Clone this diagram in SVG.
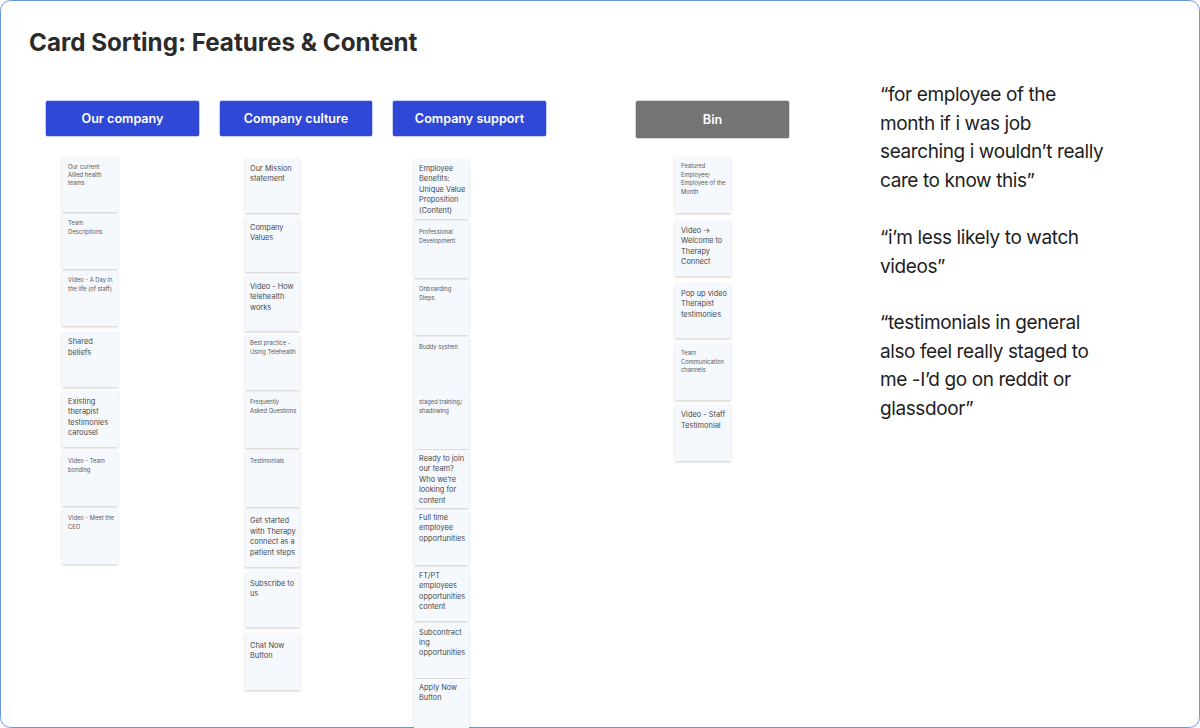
<svg xmlns="http://www.w3.org/2000/svg" width="1200" height="728" viewBox="0 0 1200 728">
<defs>
<filter id="sh" x="-20%" y="-20%" width="140%" height="150%">
<feDropShadow dx="0" dy="1.2" stdDeviation="1" flood-color="#000" flood-opacity="0.18"/>
</filter>
<style>
.title{font-family:Inter,"Liberation Sans",sans-serif;font-size:24.2px;font-weight:700;fill:#2b2b2b}
.hb{fill:#2f48d8;stroke:#2a40c4;stroke-width:0.5}
.hg{fill:#757575;stroke:#666;stroke-width:0.5}
.ht{font-family:Inter,"Liberation Sans",sans-serif;font-size:12.6px;font-weight:600;fill:#fff;text-anchor:middle}
.card{fill:#f5f8fd;filter:url(#sh)}
.s{font-family:Inter,"Liberation Sans",sans-serif;font-size:5.8px;fill:#5a5a5a}
.l{font-family:Inter,"Liberation Sans",sans-serif;font-size:7.4px;fill:#4a4a4a}
.q{font-family:Inter,"Liberation Sans",sans-serif;font-size:19px;letter-spacing:-0.4px;fill:#1e1e1e}
</style>
</defs>
<rect x="0.5" y="0.5" width="1199" height="727" rx="10" fill="#fff" stroke="#6a96e2" stroke-width="1"/>
<text class="title" x="29" y="51">Card Sorting: Features &amp; Content</text>

<g id="hdr-our-company"><rect class="hb" x="46" y="101" width="153" height="35" rx="1.5"/><text class="ht" x="122.5" y="123">Our company</text></g>
<g id="hdr-company-culture"><rect class="hb" x="220" y="101" width="152" height="35" rx="1.5"/><text class="ht" x="296" y="123">Company culture</text></g>
<g id="hdr-company-support"><rect class="hb" x="393" y="101" width="153" height="35" rx="1.5"/><text class="ht" x="469.5" y="123">Company support</text></g>
<g id="hdr-bin"><rect class="hg" x="636" y="101" width="153" height="37" rx="1.5"/><text class="ht" x="712.5" y="124">Bin</text></g>

<g id="col1">
<g id="c1-1"><rect class="card" x="62" y="157" width="56" height="55"/><text class="s" x="68" y="169"><tspan x="68">Our current</tspan><tspan x="68" dy="8">Allied health</tspan><tspan x="68" dy="8">teams</tspan></text></g>
<g id="c1-2"><rect class="card" x="62" y="214" width="56" height="55"/><text class="s" x="68" y="225"><tspan x="68">Team</tspan><tspan x="68" dy="8.5">Descriptions</tspan></text></g>
<g id="c1-3"><rect class="card" x="62" y="271" width="56" height="55"/><text class="s" x="68" y="282"><tspan x="68">Video - A Day in</tspan><tspan x="68" dy="9">the life (of staff)</tspan></text></g>
<g id="c1-4"><rect class="card" x="62" y="332" width="56" height="55"/><text class="l" x="68" y="344"><tspan x="68">Shared</tspan><tspan x="68" dy="10.5">beliefs</tspan></text></g>
<g id="c1-5"><rect class="card" x="62" y="391" width="56" height="56"/><text class="l" x="68" y="404"><tspan x="68">Existing</tspan><tspan x="68" dy="10.4">therapist</tspan><tspan x="68" dy="10.4">testimonies</tspan><tspan x="68" dy="10.4">carousel</tspan></text></g>
<g id="c1-6"><rect class="card" x="62" y="451" width="56" height="55"/><text class="s" x="68" y="463"><tspan x="68">Video - Team</tspan><tspan x="68" dy="8.5">bonding</tspan></text></g>
<g id="c1-7"><rect class="card" x="62" y="509" width="56" height="55"/><text class="s" x="68" y="520"><tspan x="68">Video - Meet the</tspan><tspan x="68" dy="8.5">CEO</tspan></text></g>
</g>

<g id="col2">
<g id="c2-1"><rect class="card" x="245" y="158" width="55" height="55"/><text class="l" x="250" y="171"><tspan x="250">Our Mission</tspan><tspan x="250" dy="10.4">statement</tspan></text></g>
<g id="c2-2"><rect class="card" x="245" y="217" width="55" height="55"/><text class="l" x="250" y="230"><tspan x="250">Company</tspan><tspan x="250" dy="10.4">Values</tspan></text></g>
<g id="c2-3"><rect class="card" x="245" y="276" width="55" height="55"/><text class="l" x="250" y="289"><tspan x="250">Video - How</tspan><tspan x="250" dy="10.4">telehealth</tspan><tspan x="250" dy="10.4">works</tspan></text></g>
<g id="c2-4"><rect class="card" x="245" y="335" width="55" height="55"/><text class="s" x="250" y="345"><tspan x="250">Best practice -</tspan><tspan x="250" dy="8.8">Using Telehealth</tspan></text></g>
<g id="c2-5"><rect class="card" x="245" y="393" width="55" height="55"/><text class="s" x="250" y="404"><tspan x="250">Frequently</tspan><tspan x="250" dy="8.5">Asked Questions</tspan></text></g>
<g id="c2-6"><rect class="card" x="245" y="451" width="55" height="56"/><text class="s" x="250" y="463">Testimonials</text></g>
<g id="c2-7"><rect class="card" x="245" y="510" width="55" height="57"/><text class="l" x="250" y="523"><tspan x="250">Get started</tspan><tspan x="250" dy="10.5">with Therapy</tspan><tspan x="250" dy="10.5">connect as a</tspan><tspan x="250" dy="10.5">patient steps</tspan></text></g>
<g id="c2-8"><rect class="card" x="245" y="572" width="55" height="55"/><text class="l" x="250" y="586"><tspan x="250">Subscribe to</tspan><tspan x="250" dy="10.4">us</tspan></text></g>
<g id="c2-9"><rect class="card" x="245" y="633" width="55" height="57"/><text class="l" x="250" y="648"><tspan x="250">Chat Now</tspan><tspan x="250" dy="10.4">Button</tspan></text></g>
</g>

<g id="col3">
<g id="c3-1"><rect class="card" x="414" y="159" width="55" height="60"/><text class="l" x="419" y="171"><tspan x="419">Employee</tspan><tspan x="419" dy="10.4">Benefits:</tspan><tspan x="419" dy="10.4">Unique Value</tspan><tspan x="419" dy="10.4">Proposition</tspan><tspan x="419" dy="10.4">(Content)</tspan></text></g>
<g id="c3-2"><rect class="card" x="414" y="222" width="55" height="56"/><text class="s" x="419" y="234"><tspan x="419">Professional</tspan><tspan x="419" dy="8.5">Development</tspan></text></g>
<g id="c3-3"><rect class="card" x="414" y="280" width="55" height="55"/><text class="s" x="419" y="291"><tspan x="419">Onboarding</tspan><tspan x="419" dy="8.8">Steps</tspan></text></g>
<g id="c3-4"><rect class="card" x="414" y="337" width="55" height="57"/><text class="s" x="419" y="349">Buddy system</text></g>
<g id="c3-5"><rect class="card" x="414" y="394" width="55" height="55"/><text class="s" x="419" y="404"><tspan x="419">staged training/</tspan><tspan x="419" dy="8.5">shadowing</tspan></text></g>
<g id="c3-6"><rect class="card" x="414" y="450" width="55" height="58"/><text class="l" x="419" y="461"><tspan x="419">Ready to join</tspan><tspan x="419" dy="10.4">our team?</tspan><tspan x="419" dy="10.4">Who we’re</tspan><tspan x="419" dy="10.4">looking for</tspan><tspan x="419" dy="10.4">content</tspan></text></g>
<g id="c3-7"><rect class="card" x="414" y="510" width="55" height="55"/><text class="l" x="419" y="520"><tspan x="419">Full time</tspan><tspan x="419" dy="10.4">employee</tspan><tspan x="419" dy="10.4">opportunities</tspan></text></g>
<g id="c3-8"><rect class="card" x="414" y="567" width="55" height="54"/><text class="l" x="419" y="578"><tspan x="419">FT/PT</tspan><tspan x="419" dy="10.4">employees</tspan><tspan x="419" dy="10.4">opportunities</tspan><tspan x="419" dy="10.4">content</tspan></text></g>
<g id="c3-9"><rect class="card" x="414" y="623" width="55" height="55"/><text class="l" x="419" y="635"><tspan x="419">Subcontract</tspan><tspan x="419" dy="10.2">ing</tspan><tspan x="419" dy="10.2">opportunities</tspan></text></g>
<g id="c3-10"><rect class="card" x="414" y="679" width="55" height="49"/><text class="l" x="419" y="690"><tspan x="419">Apply Now</tspan><tspan x="419" dy="10.4">Button</tspan></text></g>
</g>

<g id="col4">
<g id="c4-1"><rect class="card" x="675" y="157" width="56" height="56"/><text class="s" x="681" y="168"><tspan x="681">Featured</tspan><tspan x="681" dy="8.6">Employee/</tspan><tspan x="681" dy="8.6">Employee of the</tspan><tspan x="681" dy="8.6">Month</tspan></text></g>
<g id="c4-2"><rect class="card" x="675" y="220" width="56" height="56"/><text class="l" x="681" y="233"><tspan x="681">Video →</tspan><tspan x="681" dy="10.4">Welcome to</tspan><tspan x="681" dy="10.4">Therapy</tspan><tspan x="681" dy="10.4">Connect</tspan></text></g>
<g id="c4-3"><rect class="card" x="675" y="283" width="56" height="55"/><text class="l" x="681" y="296"><tspan x="681">Pop up video</tspan><tspan x="681" dy="10.4">Therapist</tspan><tspan x="681" dy="10.4">testimonies</tspan></text></g>
<g id="c4-4"><rect class="card" x="675" y="343" width="56" height="57"/><text class="s" x="681" y="355"><tspan x="681">Team</tspan><tspan x="681" dy="8.6">Communication</tspan><tspan x="681" dy="8.6">channels</tspan></text></g>
<g id="c4-5"><rect class="card" x="675" y="405" width="56" height="56"/><text class="l" x="681" y="417"><tspan x="681">Video - Staff</tspan><tspan x="681" dy="10.6">Testimonial</tspan></text></g>
</g>

<g id="quotes">
<text class="q" x="880" y="101"><tspan x="880">“for employee of the</tspan><tspan x="880" dy="28.5">month if i was job</tspan><tspan x="880" dy="28.5">searching i wouldn’t really</tspan><tspan x="880" dy="28.5">care to know this”</tspan></text>
<text class="q" x="880" y="244"><tspan x="880">“i’m less likely to watch</tspan><tspan x="880" dy="28.5">videos”</tspan></text>
<text class="q" x="880" y="329"><tspan x="880">“testimonials in general</tspan><tspan x="880" dy="28.5">also feel really staged to</tspan><tspan x="880" dy="28.5">me -I’d go on reddit or</tspan><tspan x="880" dy="28.5">glassdoor”</tspan></text>
</g>
</svg>
